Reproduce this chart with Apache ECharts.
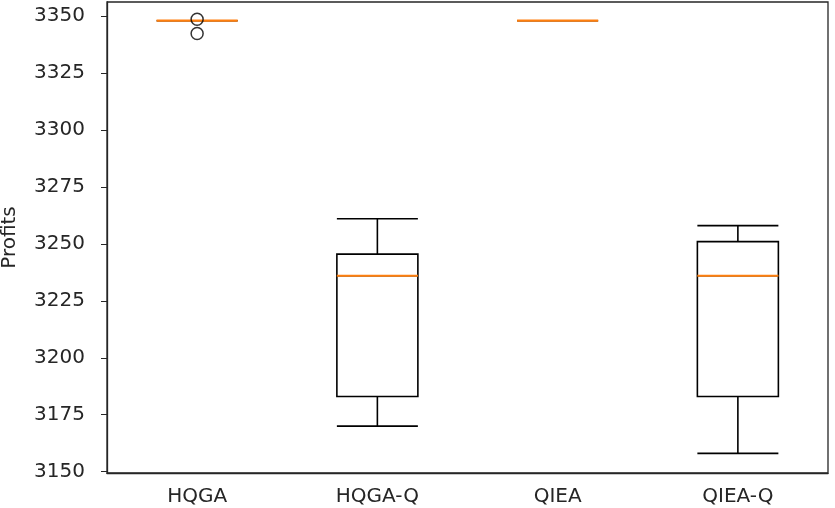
<!DOCTYPE html>
<html>
<head>
<meta charset="utf-8">
<script src="https://cdn.jsdelivr.net/npm/echarts@6/dist/echarts.min.js"></script>
<style>
  html, body { margin: 0; padding: 0; background: #fff; }
  #main { width: 835px; height: 508px; }
</style>
</head>
<body>
<div id="main"></div>
<script>
// categories and box stats [min, Q1, median, Q3, max]
var categories = ['HQGA', 'HQGA-Q', 'QIEA', 'QIEA-Q'];
var boxLow = [3348, 3170, 3348, 3158];
var boxQ1 = [3348, 3183, 3348, 3183];
var boxMedian = [3348, 3236, 3348, 3236];
var boxQ3 = [3348, 3245.5, 3348, 3251];
var boxHigh = [3348, 3261, 3348, 3258];
// outliers: [category index, value]
var outliers = [[0, 3348.6], [0, 3342.4]];
var yTicks = [3150, 3175, 3200, 3225, 3250, 3275, 3300, 3325, 3350];

var myChart = echarts.init(document.getElementById('main'));

var boxData = categories.map(function (c, i) {
    return [boxLow[i], boxQ1[i], boxMedian[i], boxQ3[i], boxHigh[i]];
});

var labelFont = { fontFamily: 'DejaVu Sans', fontSize: 20, color: '#262626' };

myChart.setOption({
    animation: false,
    grid: {
        left: 107, right: 7, top: 2, bottom: 35,
        outerBoundsMode: 'none',
        containLabel: false,
        show: true, borderColor: '#262626', borderWidth: 1.3
    },
    xAxis: {
        type: 'category',
        data: categories,
        boundaryGap: true,
        axisLine: { lineStyle: { color: '#262626', width: 1.3 } },
        axisTick: { alignWithLabel: true, length: 6, lineStyle: { color: '#262626' } },
        axisLabel: Object.assign({ margin: 14 }, labelFont),
        splitLine: { show: false }
    },
    yAxis: {
        type: 'value',
        min: 3149.4,
        max: 3356.2,
        name: 'Profits',
        nameLocation: 'middle',
        nameGap: 87,
        nameTextStyle: labelFont,
        axisLine: { show: true, lineStyle: { color: '#262626', width: 1.3 } },
        axisTick: { show: true, length: 6, customValues: yTicks, lineStyle: { color: '#262626' } },
        axisLabel: Object.assign({
            margin: 22,
            customValues: yTicks,
            formatter: function (v) { return String(v); }
        }, labelFont),
        splitLine: { show: false }
    },
    series: [
        {
            type: 'boxplot',
            data: boxData,
            boxWidth: [81, 81],
            itemStyle: { color: '#fff', borderColor: '#000', borderWidth: 1.6 },
            z: 2
        },
        {
            // orange median line on top of each box
            type: 'custom',
            data: boxMedian.map(function (v, i) { return [i, v]; }),
            z: 3,
            renderItem: function (params, api) {
                var p = api.coord([api.value(0), api.value(1)]);
                var half = api.size([1, 0])[0] * 0.225;
                return {
                    type: 'line',
                    shape: { x1: p[0] - half, y1: p[1], x2: p[0] + half, y2: p[1] },
                    style: { stroke: '#ff7f0e', lineWidth: 2.2 }
                };
            }
        },
        {
            type: 'scatter',
            data: outliers,
            symbol: 'circle',
            symbolSize: [12, 12],
            itemStyle: { color: 'rgba(0,0,0,0)', borderColor: '#000', borderWidth: 1.5 },
            z: 4
        }
    ]
});
</script>
</body>
</html>
